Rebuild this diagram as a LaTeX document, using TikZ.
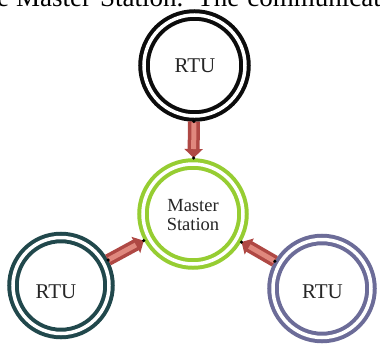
\documentclass[tikz,border=0pt]{standalone}
\usepackage{fontspec}
\setmainfont{Liberation Serif}
\usetikzlibrary{arrows.meta,calc}
\definecolor{ringblack}{RGB}{12,12,12}
\definecolor{ringgreen}{RGB}{150,205,50}
\definecolor{ringteal}{RGB}{33,72,76}
\definecolor{ringslate}{RGB}{108,108,152}
\definecolor{arrowdark}{RGB}{175,72,68}
\definecolor{arrowlight}{RGB}{224,136,126}
\begin{document}
\begin{tikzpicture}[x=1pt,y=-1pt,
  ring/.style={circle, draw=#1, line width=4pt, double=white, double distance=3.5pt,
    inner sep=0pt},
  rtutext/.style={font=\fontsize{21}{24}\selectfont, text=black!85},
  mastertext/.style={font=\fontsize{18.5}{21}\selectfont, align=center, text=black!85},
  flowarrow/.style={line width=12pt, arrowdark, -{Triangle[length=9pt,width=18pt]}},
  flowlight/.style={line width=5pt, arrowlight, shorten >=9pt, shorten <=1pt},
  enddot/.style={fill=black, inner sep=0pt, minimum size=3.5pt, circle}
]
\useasboundingbox (0,0) rectangle (380,343);
\begin{scope}
\clip (0,0) rectangle (380,343);
\fill[white] (0,0) rectangle (380,343);
% cut-off line of text at the top
\node[anchor=base west, inner sep=0pt, font=\fontsize{27}{30}\selectfont] (topline) at (-3,6.5)
  {e\hspace{7pt}Master\hspace{9pt}Station.\hspace{14pt}The\hspace{8pt}communicatio};

% rings
\node[ring=ringblack, minimum size=101pt] (rtuT) at (194.5,65.5) {};
\node[ring=ringgreen, minimum size=100pt] (master) at (193,214) {};
\node[ring=ringteal, minimum size=96pt] (rtuL) at (61,285.5) {};
\node[ring=ringslate, minimum size=98pt] (rtuR) at (322,288.5) {};

% texts
\node[rtutext] (rtuTlabel) at (195,66) {RTU};
\node[mastertext] (masterlabel) at (193,215) {Master\\[-2pt]Station};
\node[rtutext] (rtuLlabel) at (56,292) {RTU};
\node[rtutext] (rtuRlabel) at (322.5,292) {RTU};

% arrow end points
\coordinate (aT) at ($(rtuT)!56pt!(master)$);
\coordinate (bT) at ($(master)!56pt!(rtuT)$);
\coordinate (aL) at ($(rtuL)!53.5pt!(master)$);
\coordinate (bL) at ($(master)!56pt!(rtuL)$);
\coordinate (aR) at ($(rtuR)!54.5pt!(master)$);
\coordinate (bR) at ($(master)!56pt!(rtuR)$);

% arrows
\foreach \a/\b in {aT/bT, aL/bL, aR/bR}{
  \draw[flowarrow] (\a) -- (\b);
  \draw[flowlight] (\a) -- (\b);
  \node[enddot] at (\a) {};
  \node[enddot] at (\b) {};
}
\end{scope}
\end{tikzpicture}
\end{document}
